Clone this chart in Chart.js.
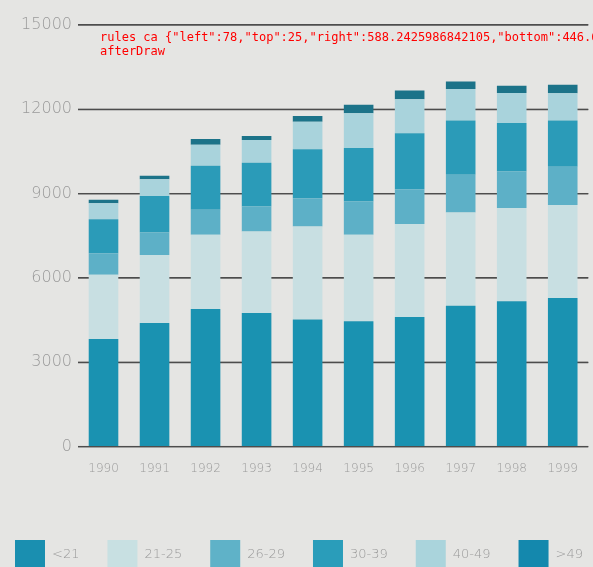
<!DOCTYPE html>
<html>
<head>
<meta charset="utf-8">
<script src="https://cdn.jsdelivr.net/npm/chart.js@4/dist/chart.umd.min.js"></script>
<style>
  html, body { margin: 0; padding: 0; background: #e5e5e3; overflow: hidden; }
  #wrap { position: relative; width: 593px; height: 567px; }
  #dbg { position: absolute; left: 100px; top: 30px; font: 12px monospace; color: red; white-space: pre; }
</style>
</head>
<body>
<div id="wrap"><canvas id="chart"></canvas></div>
<div id="dbg"></div>
<script>
const years = ["1990", "1991", "1992", "1993", "1994", "1995", "1996", "1997", "1998", "1999"];
const ageGroups = ["<21", "21-25", "26-29", "30-39", "40-49", ">49"];
const under21 = [3830, 4400, 4900, 4750, 4520, 4460, 4610, 5010, 5170, 5290];
const age21to25 = [2280, 2420, 2640, 2900, 3310, 3080, 3310, 3320, 3320, 3310];
const age26to29 = [770, 800, 890, 890, 1010, 1180, 1240, 1340, 1300, 1360];
const age30to39 = [1210, 1300, 1560, 1560, 1740, 1900, 1990, 1930, 1720, 1640];
const age40to49 = [570, 590, 750, 810, 980, 1240, 1210, 1120, 1070, 970];
const over49 = [120, 130, 200, 140, 200, 300, 310, 270, 260, 300];
const yTicks = [0, 3000, 6000, 9000, 12000, 15000];
const seriesValues = [under21, age21to25, age26to29, age30to39, age40to49, over49];
const seriesColors = ["#1a92b1", "#c8dfe2", "#5db0c7", "#2b9bb8", "#a9d3dc", "#1c7389"];
const legendColors = ["#1a8fb0", "#c8e0e2", "#5fb2c8", "#2a9dba", "#aad4dc", "#1488ad"];
const textGrey = "#9a9a9a";
const gridColor = "#4d4d4d";
const log = [];

const ruleLines = {
    id: 'ruleLines',
    beforeDatasetsDraw(chart) {
        const { ctx, chartArea } = chart;
        const y = chart.scales.y;
        log.push("rules ca " + JSON.stringify(chartArea) + " ticks " + y.ticks.length + " px0 " + y.getPixelForValue(0));
        ctx.save();
        ctx.fillStyle = gridColor;
        y.ticks.forEach(t => {
            const py = y.getPixelForValue(t.value);
            ctx.fillRect(chartArea.left, py - 0.65, chartArea.right - chartArea.left, 1.3);
        });
        ctx.restore();
    }
};

const bottomLegend = {
    id: 'bottomLegend',
    afterDraw(chart) {
        const { ctx } = chart;
        log.push("afterDraw");
        ctx.save();
        ctx.font = "200 13px 'DejaVu Sans'";
        ctx.textBaseline = "middle";
        ctx.textAlign = "left";
        let left = 15;
        chart.data.datasets.forEach((ds, i) => {
            ctx.fillStyle = legendColors[i];
            ctx.fillRect(left, 540, 30, 30);
            ctx.fillStyle = textGrey;
            ctx.fillText(ds.label, left + 37, 555);
            left += 37 + ctx.measureText(ds.label).width + 28;
        });
        ctx.restore();
        document.getElementById("dbg").textContent = log.join("\n");
    }
};

const c = new Chart(document.getElementById("chart"), {
    type: "bar",
    data: {
        labels: years,
        datasets: ageGroups.map((name, i) => ({
            label: name, data: seriesValues[i], backgroundColor: seriesColors[i],
            borderWidth: 0, barPercentage: 0.58, categoryPercentage: 1
        }))
    },
    options: {
        responsive: true, maintainAspectRatio: false, animation: false,
        layout: { padding: { top: 25, right: -6, left: 0, bottom: 76 } },
        scales: {
            x: {
                stacked: true,
                grid: { display: false, drawTicks: false },
                border: { display: false },
                ticks: { color: textGrey, font: { family: "'DejaVu Sans'", size: 12, weight: 200 }, padding: 15, maxRotation: 0 }
            },
            y: {
                stacked: true, min: 0, max: 15000,
                afterBuildTicks(scale) { scale.ticks = yTicks.map(v => ({ value: v })); },
                afterFit(scale) { scale.width = 78; },
                grid: { color: gridColor, lineWidth: 1.3, drawTicks: false },
                border: { display: false },
                ticks: { color: textGrey, font: { family: "'DejaVu Sans'", size: 16, weight: 200 }, padding: 6, callback: v => String(v) }
            }
        },
        plugins: { tooltip: { enabled: false }, legend: { display: false } }
    },
    plugins: [ruleLines, bottomLegend]
});
</script>
</body>
</html>
